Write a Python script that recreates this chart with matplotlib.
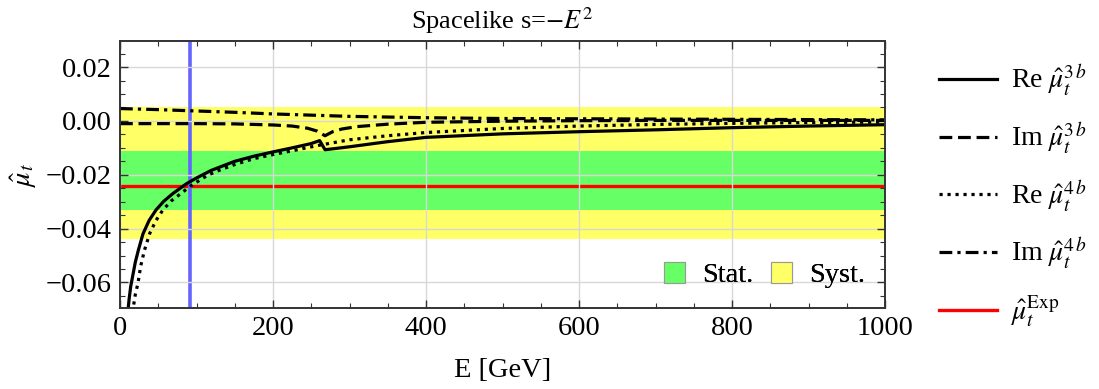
import numpy as np
import matplotlib
matplotlib.use("Agg")
import matplotlib.pyplot as plt
from matplotlib.lines import Line2D
from matplotlib.patches import Patch
from matplotlib.ticker import MultipleLocator

plt.rcParams['font.family'] = 'serif'
plt.rcParams['font.serif'] = ['Liberation Serif', 'DejaVu Serif']
plt.rcParams['mathtext.fontset'] = 'stix'

# ---- data ----
# Re mu^3b (solid), kink near E ~ 265 GeV
re3_E = [8, 10, 12, 14, 17, 20, 24, 30, 38, 47, 57, 69, 87, 100, 119, 150, 175,
         200, 225, 250, 261, 268, 280, 300, 350, 400, 500, 600, 700, 800, 900, 1000]
re3_v = [-0.080, -0.0715, -0.066, -0.0615, -0.057, -0.0525, -0.048, -0.0420,
         -0.0370, -0.0331, -0.0299, -0.0270, -0.0233, -0.0212, -0.0184, -0.0150,
         -0.0131, -0.0115, -0.0100, -0.0084, -0.0073, -0.0107, -0.0103, -0.0096,
         -0.0077, -0.0061, -0.0048, -0.0040, -0.0033, -0.0025, -0.0019, -0.0014]

# Im mu^3b (dashed), cusp near E ~ 268 GeV
im3_E = [0, 50, 100, 150, 200, 225, 245, 258, 268, 278, 290, 310, 350, 400, 500,
         600, 700, 800, 1000]
im3_v = [-0.0010, -0.0010, -0.0010, -0.0011, -0.0015, -0.0019, -0.0027, -0.0038,
         -0.0055, -0.0040, -0.0030, -0.0021, -0.0012, -0.0005, -0.0001, 0.0001,
         0.0002, 0.0002, 0.0002]

# Re mu^4b (dotted)
re4_E = [13, 17, 20, 23.5, 27, 32, 39, 47, 56, 67, 80, 91, 115, 130, 150, 175,
         200, 230, 261, 300, 350, 400, 500, 600, 700, 800, 900, 1000]
re4_v = [-0.080, -0.070, -0.0645, -0.0603, -0.054, -0.048, -0.0417, -0.0370,
         -0.0331, -0.0297, -0.0269, -0.0244, -0.0201, -0.0183, -0.0162, -0.0140,
         -0.0125, -0.0108, -0.0090, -0.0070, -0.0055, -0.0043, -0.0028, -0.0019,
         -0.0013, -0.0009, -0.0006, -0.0004]

# Im mu^4b (dash-dot)
im4_E = [0, 50, 100, 150, 200, 300, 400, 500, 600, 700, 800, 900, 1000]
im4_v = [0.0046, 0.0042, 0.0037, 0.0032, 0.0026, 0.0017, 0.0012, 0.0009, 0.0008,
         0.0007, 0.0006, 0.0005, 0.0004]

mu_exp = -0.024
stat_band = (-0.033, -0.011)
syst_band = (-0.044, 0.005)
m_Z = 91.19

fig = plt.figure(figsize=(10.99, 3.89), dpi=100)
ax = fig.add_axes([120 / 1099, 1 - 308 / 389, 765 / 1099, 267 / 389])

ax.axhspan(*syst_band, color='#ffff66', lw=0, zorder=1)
ax.axhspan(*stat_band, color='#66ff66', lw=0, zorder=1.1)
ax.axhline(mu_exp, color='#ff0000', lw=2.4, zorder=2)
ax.axvline(m_Z, color='#6464ff', lw=2.6, zorder=2.5)

lw = 2.3
styles = ['-', (0, (4, 1.8)), (0, (1, 1.5)), (0, (4, 1.6, 1, 1.6))]
ax.plot(re3_E, re3_v, color='black', lw=lw, ls=styles[0], zorder=3)
ax.plot(im3_E, im3_v, color='black', lw=lw, ls=styles[1], zorder=3)
ax.plot(re4_E, re4_v, color='black', lw=lw, ls=styles[2], zorder=3)
ax.plot(im4_E, im4_v, color='black', lw=lw, ls=styles[3], zorder=3)

ax.set_xlim(0, 1000)
ax.set_ylim(-0.0695, 0.0297)
ax.xaxis.set_major_locator(MultipleLocator(200))
ax.xaxis.set_minor_locator(MultipleLocator(50))
ax.yaxis.set_major_locator(MultipleLocator(0.02))
ax.yaxis.set_minor_locator(MultipleLocator(0.005))
ax.yaxis.set_major_formatter(matplotlib.ticker.FuncFormatter(
    lambda v, p: ('\u2212' if v < -1e-9 else '') + '%.2f' % abs(v)))
ax.tick_params(which='both', direction='in', top=True, right=True,
               labelsize=20.5, color='#333333', pad=6)
ax.tick_params(which='major', length=6, width=1)
ax.tick_params(which='minor', length=3.5, width=0.8)
ax.grid(True, which='major', color='#d8d8d8', lw=1, zorder=0)
ax.set_axisbelow(False)
for s in ax.spines.values():
    s.set_color('#333333')
    s.set_linewidth(1.4)
    s.set_zorder(5)

ax.set_title('Spacelike s=$-E^2$', fontsize=19, pad=9)
ax.set_xlabel('E [GeV]', fontsize=20.5, labelpad=12)
ax.set_ylabel(r'$\hat{\mu}_t$', fontsize=20.5, labelpad=5)

band_handles = [Patch(facecolor='#66ff66', edgecolor='#999999', lw=0.8, label='Stat.'),
                Patch(facecolor='#ffff66', edgecolor='#999999', lw=0.8, label='Syst.')]
leg2 = ax.legend(handles=band_handles, loc='lower right', ncol=2, frameon=False,
                 fontsize=20.5, handlelength=0.75, handleheight=0.75,
                 handletextpad=0.6, columnspacing=0.6, borderaxespad=0.3)
ax.add_artist(leg2)

line_handles = [
    Line2D([], [], color='black', lw=lw, ls=styles[0], label=r'Re $\hat{\mu}_t^{3\,b}$'),
    Line2D([], [], color='black', lw=lw, ls=styles[1], label=r'Im $\hat{\mu}_t^{3\,b}$'),
    Line2D([], [], color='black', lw=lw, ls=styles[2], label=r'Re $\hat{\mu}_t^{4\,b}$'),
    Line2D([], [], color='black', lw=lw, ls=styles[3], label=r'Im $\hat{\mu}_t^{4\,b}$'),
    Line2D([], [], color='#ff0000', lw=2.4, ls='-', label=r'$\hat{\mu}_t^{\mathrm{Exp}}$'),
]
fig.legend(handles=line_handles, loc='center left',
           bbox_to_anchor=(939 / 1099, 1 - 196 / 389), bbox_transform=fig.transFigure,
           frameon=False, fontsize=20, handlelength=2.1, handletextpad=0.5,
           labelspacing=0.8, borderpad=0, borderaxespad=0)

fig.savefig('out.png', dpi=100)
